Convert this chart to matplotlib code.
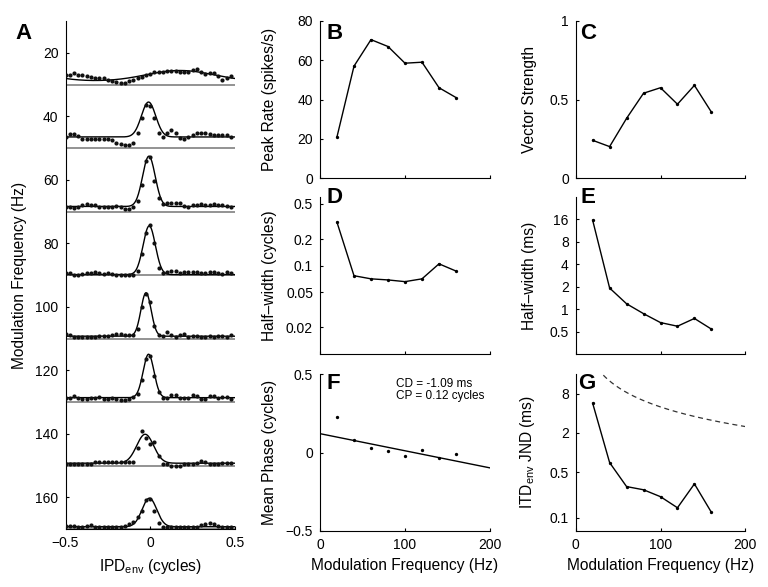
import numpy as np
import matplotlib
matplotlib.use("Agg")
import matplotlib.pyplot as plt

plt.rcParams["font.family"] = ["Liberation Sans", "DejaVu Sans"]
plt.rcParams["mathtext.fontset"] = "custom"
plt.rcParams["mathtext.rm"] = "Liberation Sans"
plt.rcParams["mathtext.it"] = "Liberation Sans:italic"

# ===== data =====
mod_freq = [20, 40, 60, 80, 100, 120, 140, 160]
ipd = np.arange(-20, 20) / 40.0  # IPDenv sample points (cycles)

# panel A: rate (spikes/s) vs IPDenv for each modulation frequency
rate_20 = [12, 12, 14.5, 13, 12, 11, 10, 9, 9, 8, 6, 4.5, 3, 2.5, 2.5, 4, 6.5, 8.5, 10, 12,
           14, 16, 17, 17, 18, 17.5, 17.5, 17, 16, 16, 18.5, 20.5, 17, 14, 15.5, 15, 10.5, 6, 8.5, 10.5]
rate_40 = [14, 18, 19, 16, 12, 12, 12, 12, 12, 12, 12, 10, 7, 5.5, 3.5, 3.5, 6.5, 20, 40, 56,
           55, 39, 20, 15, 20, 23, 20, 13, 12, 14.5, 17.5, 20, 20, 20, 19, 17, 17, 17.5, 17.5, 14.5]
rate_60 = [6, 5.5, 4.5, 6, 9, 9.5, 8, 8, 6, 5.5, 5.5, 5.5, 7.5, 5.5, 3.5, 3.5, 5.5, 13.5, 35, 66,
           71, 40, 17.5, 10, 10.5, 11, 11, 10.5, 7.5, 6, 8, 8.5, 9.5, 9, 9, 10, 9, 9, 7.5, 5.5]
rate_80 = [3, 2, 0, 0, 1, 2.5, 3, 3.5, 2, 1.5, 2, 1, 0.5, 0.5, 0.5, 0.5, 0.5, 5.5, 27, 54.5,
           65.5, 41.5, 9, 2.5, 4.5, 5.5, 5, 3, 3.5, 3.5, 3.5, 3.5, 3, 2, 4.5, 4.5, 2, 1.5, 3.5, 2.5]
rate_100 = [6.5, 4.5, 2, 2, 2, 2, 2, 2, 3, 3, 3, 5, 5.5, 5.5, 5, 5, 5, 13, 41, 59,
            47.5, 16.5, 5, 3.5, 8, 5, 2, 5, 5.5, 2, 3.5, 3.5, 2, 2, 3, 2, 3, 3, 2, 5]
rate_120 = [5.5, 5.5, 7.5, 5.5, 4, 4, 5.5, 5.5, 6.5, 4.5, 4.5, 5.5, 4.5, 3, 2, 4, 6.5, 11, 28.5, 57,
            61, 34, 13, 5.5, 5.5, 9, 9, 5.5, 5, 5.5, 9, 8, 4.5, 4.5, 7.5, 7.5, 5.5, 6.5, 6.5, 4.5]
rate_140 = [2, 2, 2, 2, 1.5, 1.5, 1.5, 4.5, 4.5, 4.5, 4.5, 4.5, 4.5, 4.5, 4.5, 4.5, 4.5, 23.5, 45.5, 35.5,
            28.5, 31, 12.5, 2, 1.5, 0, 0, 0, 1.5, 1.5, 2, 3, 5.5, 5, 2, 2, 2.5, 3, 3.5, 3]
rate_160 = [4, 4, 4, 2, 2, 4, 5, 3, 3, 3, 2, 2, 2, 3, 4, 6, 9, 15.5, 23, 37.5,
            39.5, 23, 7.5, 3, 3, 2, 2, 3, 3, 3, 3, 3, 5, 6.5, 7.5, 6.5, 4.5, 2, 3, 3]
rates = [rate_20, rate_40, rate_60, rate_80, rate_100, rate_120, rate_140, rate_160]

# wrapped-gaussian fit parameters per row
fit_base = [4, 14.5, 6.6, 0.5, 3, 5.7, 3, 3]
fit_amp = [14.4, 45.8, 66, 64, 57, 57, 38, 37.5]
fit_mu = [0.175, -0.01, -0.008, -0.006, -0.025, -0.01, -0.03, -0.005]
fit_sigma = [0.2, 0.042, 0.037, 0.036, 0.03, 0.032, 0.05, 0.043]

# panels B-G
peak_rate = [21, 57, 70.5, 67, 58.5, 59, 46, 41]
vector_strength = [0.24, 0.20, 0.38, 0.54, 0.575, 0.47, 0.59, 0.42]
halfwidth_cyc = [0.31, 0.077, 0.071, 0.069, 0.066, 0.071, 0.105, 0.087]
halfwidth_ms = [15.6, 1.92, 1.18, 0.87, 0.66, 0.59, 0.75, 0.54]
mean_phase = [0.223, 0.081, 0.026, 0.011, -0.021, 0.015, -0.034, -0.010]
itd_jnd = [5.7, 0.70, 0.30, 0.268, 0.21, 0.142, 0.33, 0.121]
cd_ms = -1.09
cp_cycles = 0.12

RATE_SCALE = 0.24   # Hz-axis units per spike/s in panel A
W, H = 768, 587
LABEL_FS = 11.2
TICK_FS = 10


def ax_at(left, top, width, height):
    return fig.add_axes([left / W, (H - top - height) / H, width / W, height / H])


def style(ax):
    for s in ("top", "right"):
        ax.spines[s].set_visible(False)
    ax.tick_params(direction="in", length=2.5, width=0.8, labelsize=TICK_FS, pad=5)
    ax.minorticks_off()


fig = plt.figure(figsize=(7.68, 5.87), dpi=100)

# ---- A ----
axA = ax_at(65.5, 21, 169.5, 508)
style(axA)
xfit = np.linspace(-0.5, 0.5, 401)
for f, r, b, a, mu, sg in zip(mod_freq, rates, fit_base, fit_amp, fit_mu, fit_sigma):
    base_y = f + 10
    axA.axhline(base_y, color="#939393", lw=1.4, zorder=1)
    g = sum(np.exp(-(xfit - mu + k) ** 2 / (2 * sg ** 2)) for k in (-1, 0, 1))
    axA.plot(xfit, base_y - (b + a * g) * RATE_SCALE, color="k", lw=1.0, zorder=2)
    axA.plot(ipd, base_y - np.array(r) * RATE_SCALE, "o", color="#111111", ms=3.0, mec="none", zorder=3)
axA.set_xlim(-0.5, 0.5)
axA.set_ylim(170, 10)
axA.set_xticks([-0.5, 0, 0.5])
axA.set_xticklabels(["\u22120.5", "0", "0.5"])
axA.set_yticks([20, 40, 60, 80, 100, 120, 140, 160])
axA.set_xlabel(r"IPD$_{\mathrm{env}}$ (cycles)", fontsize=LABEL_FS)
axA.set_ylabel("Modulation Frequency (Hz)", fontsize=LABEL_FS)
axA.yaxis.set_label_coords(-0.225, 0.5)
axA.xaxis.set_label_coords(0.5, -0.055)

# ---- B-G ----
left_col, right_col = 320, 575.7
tops = [21, 197, 374]
axB = ax_at(left_col, tops[0], 170, 157)
axD = ax_at(left_col, tops[1], 170, 157)
axF = ax_at(left_col, tops[2], 170, 157)
axC = ax_at(right_col, tops[0], 169.6, 157)
axE = ax_at(right_col, tops[1], 169.6, 157)
axG = ax_at(right_col, tops[2], 169.6, 157)

for ax in (axB, axC, axD, axE, axF, axG):
    style(ax)
    ax.set_xlim(0, 200)
    ax.set_xticks([0, 100, 200])

for ax, vals in ((axB, peak_rate), (axC, vector_strength), (axD, halfwidth_cyc),
                 (axE, halfwidth_ms), (axG, itd_jnd)):
    ax.plot(mod_freq, vals, "-o", color="k", lw=1.0, ms=2.4, mec="none")

axB.set_ylim(0, 80)
axB.set_yticks([0, 20, 40, 60, 80])
axB.set_ylabel("Peak Rate (spikes/s)", fontsize=LABEL_FS)

axC.set_ylim(0, 1)
axC.set_yticks([0, 0.5, 1])
axC.set_yticklabels(["0", "0.5", "1"])
axC.set_ylabel("Vector Strength", fontsize=LABEL_FS)

axD.set_yscale("log")
axD.set_ylim(0.01, 0.6)
axD.set_yticks([0.02, 0.05, 0.1, 0.2, 0.5])
axD.set_yticklabels(["0.02", "0.05", "0.1", "0.2", "0.5"])
axD.set_ylabel("Half\u2013width (cycles)", fontsize=LABEL_FS)

axE.set_yscale("log", base=2)
axE.set_ylim(0.25, 32)
axE.set_yticks([0.5, 1, 2, 4, 8, 16])
axE.set_yticklabels(["0.5", "1", "2", "4", "8", "16"])
axE.set_ylabel("Half\u2013width (ms)", fontsize=LABEL_FS)

axF.plot(mod_freq, mean_phase, "o", color="k", ms=2.4, mec="none")
fline = np.array([0, 200])
axF.plot(fline, cp_cycles + cd_ms / 1000.0 * fline, color="k", lw=1.0)
axF.set_ylim(-0.5, 0.5)
axF.set_yticks([-0.5, 0, 0.5])
axF.set_yticklabels(["\u22120.5", "0", "0.5"])
axF.set_ylabel("Mean Phase (cycles)", fontsize=LABEL_FS)
axF.text(90, 0.438, f"CD = {cd_ms:.2f} ms", fontsize=8.5, va="center", ha="left")
axF.text(90, 0.362, f"CP = {cp_cycles:.2f} cycles", fontsize=8.5, va="center", ha="left")

# dashed reference: half the modulation period
fgrid = np.linspace(20, 200, 300)
axG.plot(fgrid, 500.0 / fgrid, color="#333333", lw=0.9, ls=(0, (4, 3)))
axG.set_yscale("log")
axG.set_ylim(1 / 16, 16)
axG.set_yticks([0.1, 0.5, 2, 8])
axG.set_yticklabels(["0.1", "0.5", "2", "8"])
axG.set_ylabel(r"ITD$_{\mathrm{env}}$ JND (ms)", fontsize=LABEL_FS)

for ax in (axB, axD, axC, axE):
    ax.set_xticklabels([])
for ax in (axF, axG):
    ax.set_xlabel("Modulation Frequency (Hz)", fontsize=LABEL_FS)
    ax.xaxis.set_label_coords(0.5, -0.17)
for ax in (axB, axD, axF):
    ax.yaxis.set_label_coords(-0.253, 0.5)
for ax in (axC, axE, axG):
    ax.yaxis.set_label_coords(-0.228, 0.5)
for ax in (axD, axE, axG):
    ax.minorticks_off()

# panel letters
for letter, x, y in (("A", 15, 39), ("B", 327, 39), ("C", 580, 39), ("D", 327, 203),
                     ("E", 580, 203), ("F", 327, 389), ("G", 578, 389)):
    fig.text(x / W, 1 - y / H, letter, fontsize=16, fontweight="bold", va="baseline", ha="left")

fig.savefig("out.png", dpi=100)
